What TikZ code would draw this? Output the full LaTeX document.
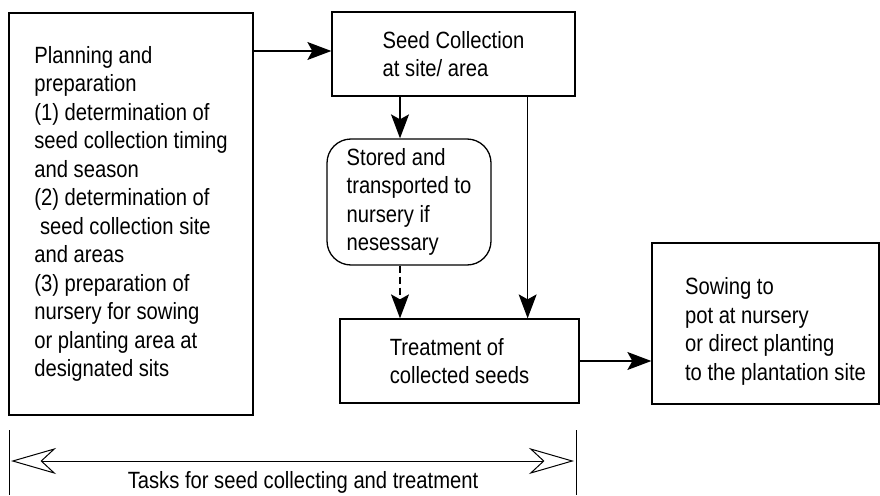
\documentclass[tikz,border=0pt]{standalone}
\usepackage{fontspec}
\setmainfont[FakeStretch=0.86]{Liberation Sans}
\usepackage{tikz}
\usetikzlibrary{arrows.meta}
\tikzstyle{boxtext} = [align=left, inner sep=0pt, font=\fontsize{23.5}{28.5}\selectfont]
\tikzstyle{flowbox} = [boxtext, draw=black, line width=1.3pt, rectangle]
\tikzstyle{storebox} = [flowbox, rounded corners=24pt]
\tikzstyle{flowarrow} = [line width=1.3pt, -{Stealth[length=24pt, width=18pt, inset=5pt]}]
\tikzstyle{spanarrow} = [line width=1pt, {Stealth[open, length=45pt, width=26pt, inset=14pt]}-{Stealth[open, length=45pt, width=26pt, inset=14pt]}]

\begin{document}
\begin{tikzpicture}[x=1pt, y=-1pt]
\useasboundingbox (0,0) rectangle (880,495);
\node [flowbox, minimum width=244pt, minimum height=402pt] (plan) at (131,214) {%
    Planning and\\
    preparation\\
    (1) determination of\\
    seed collection timing\\
    and season\\
    (2) determination of\\
    \ seed collection site\\
    and areas\\
    (3) preparation of\\
    nursery for sowing\\
    or planting area at\\
    designated sits};
\node [flowbox, minimum width=243pt, minimum height=84pt] (seed) at (453.5,54) {Seed Collection\\at site/ area};
\node [storebox, minimum width=164pt, minimum height=126pt] (store) at (409,202) {Stored and\\transported to\\nursery if\\nesessary};
\node [flowbox, minimum width=239pt, minimum height=84pt] (treat) at (459.5,361) {Treatment of\\collected seeds};
\node [flowbox, minimum width=227pt, minimum height=161pt] (sow) at (765.5,323.5) {};
\node [boxtext] (sowtext) at ([shift={(10,8)}]sow.center) {Sowing to\\pot at nursery\\or direct planting\\to the plantation site};
\draw [flowarrow] (plan.east |- 0,51) -- (seed.west |- 0,51);
\draw [flowarrow] ([xshift=-9pt]store.north |- seed.south) -- ([xshift=-9pt]store.north);
\draw [flowarrow, dashed, dash pattern=on 7pt off 4pt] ([xshift=-9pt]store.south) -- ([xshift=-9pt]store.south |- treat.north);
\draw [flowarrow] ([xshift=-48pt]seed.south east) -- ([xshift=-48pt]seed.south east |- treat.north);
\draw [flowarrow] (treat.east) -- (treat.east -| sow.west);
\coordinate (barL) at (9,430);
\coordinate (barR) at (576,430);
\draw [line width=1pt] (barL) -- ++(0,65);
\draw [line width=1pt] (barR) -- ++(0,65);
\draw [spanarrow] ([shift={(2,31)}]barL) -- ([shift={(-2,31)}]barR);
\node [boxtext] (tasks) at (303,482) {Tasks for seed collecting and treatment};
\end{tikzpicture}
\end{document}
